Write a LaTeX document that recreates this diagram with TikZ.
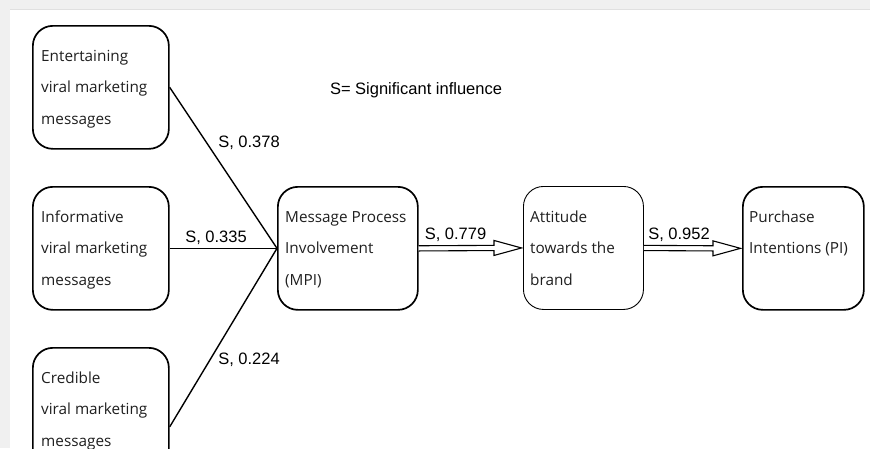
\documentclass[tikz,border=0pt]{standalone}
\usepackage{fontspec}
\newfontfamily\labelfont{Liberation Sans}
\newfontfamily\boxfont{Open Sans}
\usetikzlibrary{calc}
\begin{document}
\begin{tikzpicture}[x=1pt,y=-1pt,
  box/.style={draw=black, line width=1.7pt, rounded corners=20pt,
    minimum height=123pt, anchor=north west, inner sep=0pt},
  thinbox/.style={box, line width=0.9pt},
  boxtext/.style={font=\boxfont\fontsize{15.3}{31.5}\selectfont, align=left,
    anchor=base west, inner sep=0pt, text=black!88},
  lbl/.style={font=\labelfont\fontsize{16.5}{18}\selectfont, inner sep=0pt, anchor=base},
  link/.style={line width=1.4pt},
  hollow/.style={line width=1.1pt, fill=white, line join=miter}
]
\useasboundingbox (0,0) rectangle (870,448);
\clip (0,0) rectangle (870,448);
% page background with the grey frame
\fill[black!6] (0,0) rectangle (870,448);
\fill[white] (10,9) rectangle (870,448);
\draw[black!12, line width=1pt] (10,9.5) -- (870,9.5);

% message type boxes
\node[box, minimum width=136pt] (ent) at (32,25) {};
\node[box, minimum width=136pt] (inf) at (32,186) {};
\node[box, minimum width=136pt, minimum height=158pt] (cred) at (32,347) {};
% mediating and outcome boxes
\node[box, minimum width=140pt] (mpi) at (277,186) {};
\node[thinbox, minimum width=120pt] (att) at (523,186) {};
\node[box, minimum width=121pt] (pi) at (742,186) {};

% box texts (anchored at the baseline of their last line)
\node[boxtext] (entT) at (41,124) {Entertaining\\viral marketing\\messages};
\node[boxtext] (infT) at (41,285) {Informative\\viral marketing\\messages};
\node[boxtext] (credT) at (41,446) {Credible\\viral marketing\\messages};
\node[boxtext] (mpiT) at (285,285) {Message Process\\Involvement\\(MPI)};
\node[boxtext] (attT) at (530,285) {Attitude\\towards the\\brand};
\node[boxtext] (piT) at (749,253.5) {Purchase\\Intentions (PI)};

% influences on MPI
\draw[link] (ent.east) -- (mpi.west);
\draw[link] (inf.east) -- (mpi.west);
\draw[link] (cred.east) -- (mpi.west);

% hollow double arrows
\draw[hollow] ($(mpi.east)+(0,-2.6)$) -- ($(att.west)+(-29,-2.6)$)
  -- ($(att.west)+(-29,-7.5)$) -- ($(att.west)+(-1.5,0)$)
  -- ($(att.west)+(-29,7.5)$) -- ($(att.west)+(-29,2.6)$)
  -- ($(mpi.east)+(0,2.6)$);
\draw[hollow] ($(att.east)+(0,-2.6)$) -- ($(pi.west)+(-29,-2.6)$)
  -- ($(pi.west)+(-29,-7.5)$) -- ($(pi.west)+(-1.5,0)$)
  -- ($(pi.west)+(-29,7.5)$) -- ($(pi.west)+(-29,2.6)$)
  -- ($(att.east)+(0,2.6)$);

% path labels
\node[lbl] (l1) at (249,147) {S, 0.378};
\node[lbl] (l2) at (216,242) {S, 0.335};
\node[lbl] (l3) at (249,364) {S, 0.224};
\node[lbl] (l4) at (455.5,239) {S, 0.779};
\node[lbl] (l5) at (679,239) {S, 0.952};
\node[lbl] (key) at (416,94) {S= Significant influence};
\end{tikzpicture}
\end{document}
